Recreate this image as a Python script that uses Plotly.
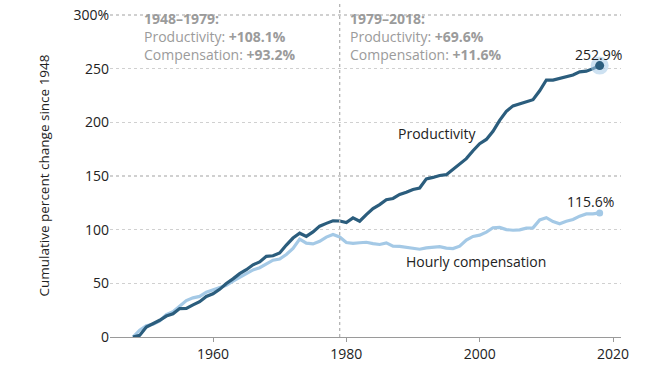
import plotly.graph_objects as go

years = list(range(1948, 2019))
productivity = [0, 1.5, 9.3, 12.3, 15.6, 19.5, 21.6, 26.5, 26.7, 29.9, 32.9, 37.8, 40.2, 44.4,
                49.9, 54.2, 59.0, 62.7, 67.3, 69.9, 75.2, 75.7, 78.3, 85.7, 92.2, 96.7, 93.7,
                97.9, 103.3, 105.9, 108.3, 108.1, 106.6, 111.0, 107.9, 114.1, 119.7, 123.4,
                128.0, 129.1, 132.8, 134.9, 137.4, 138.8, 147.4, 148.7, 150.5, 151.3, 156.1,
                160.6, 166.2, 173.6, 180.1, 184.1, 191.7, 201.9, 210.3, 215.4, 217.4, 219.6,
                221.1, 229.4, 239.5, 239.4, 240.8, 242.4, 244.2, 247.1, 247.7, 250.1, 252.9]
compensation = [0, 6.3, 10.5, 11.8, 15.0, 20.8, 23.5, 28.7, 33.9, 36.5, 37.8, 41.8, 44.1, 45.8,
                 48.2, 52.0, 55.6, 59.1, 62.5, 64.6, 68.2, 71.6, 72.7, 76.9, 82.5, 91.2, 87.5,
                 86.7, 89.2, 93.1, 95.5, 93.2, 88.0, 87.3, 87.8, 88.3, 87.0, 86.2, 87.7, 84.7,
                 84.5, 83.5, 82.3, 81.8, 83.1, 83.3, 84.2, 82.8, 82.4, 84.6, 90.4, 93.7, 94.9,
                 97.7, 101.8, 102.1, 100.1, 99.5, 99.9, 101.5, 101.7, 109.1, 111.2, 107.5,
                 105.5, 107.8, 109.5, 112.6, 114.7, 114.7, 115.6]

y_tickvals = [0, 50, 100, 150, 200, 250, 300]
y_ticktext = ["0", "50", "100", "150", "200", "250", "300%"]
x_tickvals = [1960, 1980, 2000, 2020]

PROD = "#2b5d7d"
COMP = "#a4c9e6"
GRAY = "#9b9b9b"
DARK = "#222222"
FONT = "Open Sans"
FS = 14

fig = go.Figure()
fig.add_trace(go.Scatter(x=years, y=compensation, mode="lines",
                         line=dict(color=COMP, width=3.2), hoverinfo="skip"))
fig.add_trace(go.Scatter(x=years, y=productivity, mode="lines",
                         line=dict(color=PROD, width=3.2), hoverinfo="skip"))
# end markers
fig.add_trace(go.Scatter(x=[years[-1]], y=[productivity[-1]], mode="markers",
                         marker=dict(color="rgba(164,201,230,0.55)", size=18), hoverinfo="skip"))
fig.add_trace(go.Scatter(x=[years[-1]], y=[productivity[-1]], mode="markers",
                         marker=dict(color=PROD, size=9), hoverinfo="skip"))
fig.add_trace(go.Scatter(x=[years[-1]], y=[compensation[-1]], mode="markers",
                         marker=dict(color=COMP, size=7), hoverinfo="skip"))

fig.add_shape(type="line", x0=1979, x1=1979, xref="x", y0=0, y1=1.035, yref="paper",
              line=dict(color="#b5b5b5", width=1.3, dash="dot"))

def ann(x, y, text, color=DARK, size=FS, xanchor="left", yanchor="middle", xshift=0):
    fig.add_annotation(x=x, y=y, xref="x", yref="y", text=text, showarrow=False,
                       xanchor=xanchor, yanchor=yanchor, align="left", xshift=xshift,
                       font=dict(family=FONT, size=size, color=color))

# period summaries
ann(1949.3, 280.5, "<b>1948–1979:</b><br>Productivity: <b>+108.1%</b><br>Compensation: <b>+93.2%</b>",
    color=GRAY)
ann(1980.2, 280.5, "<b>1979–2018:</b><br>Productivity: <b>+69.6%</b><br>Compensation: <b>+11.6%</b>",
    color=GRAY)

ann(1987.4, 190.1, "Productivity")
ann(1988.6, 70.8, "Hourly compensation")
ann(years[-1], 262.8, f"{productivity[-1]}%", xanchor="right", xshift=24)
ann(years[-1], 126.7, f"{compensation[-1]}%", xanchor="right", xshift=16)

# y-axis title
fig.add_annotation(x=0, y=0.5, xref="paper", yref="paper", xshift=-67, textangle=-90,
                   text="Cumulative percent change since 1948", showarrow=False,
                   xanchor="center", yanchor="middle",
                   font=dict(family=FONT, size=13.5, color=DARK))

fig.update_layout(
    width=668, height=369,
    margin=dict(l=110, r=47, t=14, b=32, autoexpand=False),
    paper_bgcolor="white", plot_bgcolor="white",
    showlegend=False,
    font=dict(family=FONT, size=FS, color=DARK),
    xaxis=dict(range=[1944.55, 2021.2], tickvals=x_tickvals, showgrid=False,
               showline=True, linecolor="#9a9a9a", linewidth=1,
               ticks="outside", ticklen=4, tickcolor="#9a9a9a", automargin=False,
               tickfont=dict(family=FONT, size=FS, color=DARK), zeroline=False, fixedrange=True),
    yaxis=dict(range=[0, 301], tickvals=y_tickvals, ticktext=y_ticktext,
               showgrid=True, gridcolor="#d0d0d0", griddash="dot", gridwidth=1.5,
               zeroline=False, showline=False, ticks="", ticklabeloverflow="allow",
               automargin=False,
               tickfont=dict(family=FONT, size=FS, color=DARK),
               fixedrange=True),
)

fig.write_html("out.html", config={"displayModeBar": False, "staticPlot": True},
               post_script="document.body.style.margin='0';document.body.style.overflow='hidden';")
